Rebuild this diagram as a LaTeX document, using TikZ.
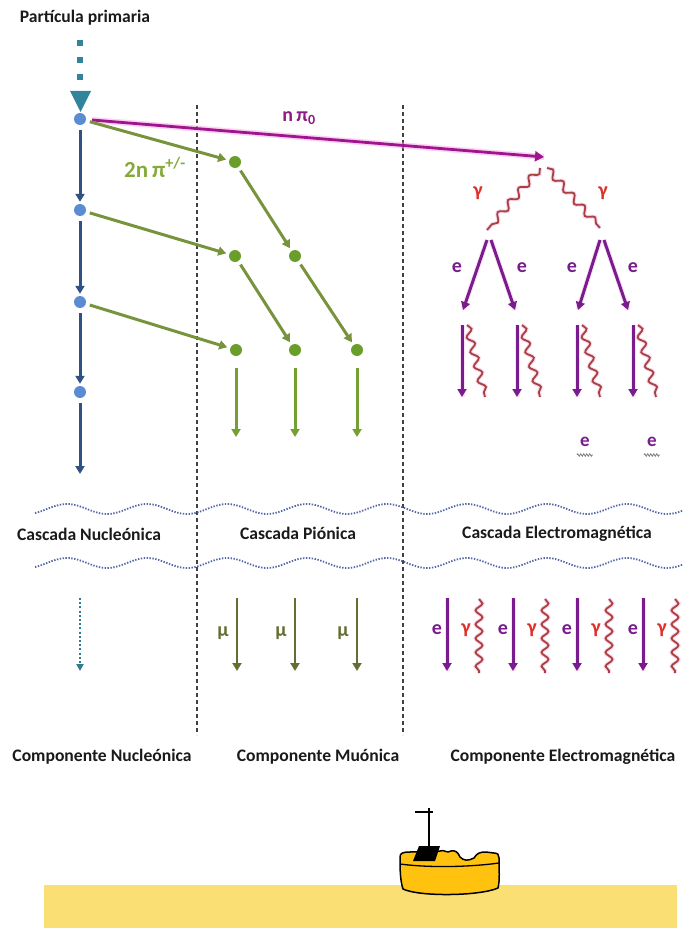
\documentclass[tikz,border=0pt]{standalone}
\usepackage{fontspec}
\setmainfont{Carlito}
\usetikzlibrary{arrows.meta,decorations.pathmorphing}
\definecolor{nucblue}{HTML}{2F5283}
\definecolor{dotblue}{HTML}{5B8BD0}
\definecolor{tealblue}{HTML}{31849B}
\definecolor{olivegreen}{HTML}{77933C}
\definecolor{pidot}{HTML}{6A9E2A}
\definecolor{pigreen}{HTML}{73A030}
\definecolor{pilabel}{HTML}{86AA3A}
\definecolor{muolive}{HTML}{646E32}
\definecolor{magline}{HTML}{A0148E}
\definecolor{magtext}{HTML}{8E1B82}
\definecolor{elpurple}{HTML}{7A1C8E}
\definecolor{gamred}{HTML}{A8423C}
\definecolor{gamtext}{HTML}{E0302A}
\definecolor{glowpink}{HTML}{F6B0E6}
\definecolor{wavedot}{HTML}{5466A8}
\definecolor{groundyel}{HTML}{F9DF74}
\definecolor{tankyel}{HTML}{FFC20E}
\definecolor{divgray}{HTML}{404040}
\definecolor{labelink}{HTML}{1A1A1A}
\begin{document}
\begin{tikzpicture}[x=1pt,y=-1pt,
  lbl/.style={font=\fontsize{17.6}{20}\selectfont\bfseries,text=labelink,inner sep=0pt},
  bdot/.style={circle,fill=dotblue,inner sep=0pt,minimum size=12pt},
  gdot/.style={circle,fill=pidot,inner sep=0pt,minimum size=12pt},
  tip/.style={-{Triangle[width=9pt,length=8pt]}},
  nucarrow/.style={draw=nucblue,line width=3pt,tip,shorten <=5pt,shorten >=2pt},
  piarrow/.style={draw=olivegreen,line width=3pt,tip,shorten <=4pt,shorten >=3pt},
  pidown/.style={draw=pigreen,line width=3pt,tip},
  muarrow/.style={draw=muolive,line width=2.6pt,tip},
  elarrow/.style={draw=elpurple,line width=3pt,tip},
  glowline/.style={draw=glowpink,line width=6pt,opacity=0.55},
  gamma/.style={draw=gamred,line width=1.8pt,decorate,
    decoration={snake,amplitude=3.5pt,segment length=16pt}},
  gammaglow/.style={draw=glowpink,line width=4pt,opacity=0.5,decorate,
    decoration={snake,amplitude=3.5pt,segment length=16pt}},
  divider/.style={draw=divgray,line width=1.2pt,dash pattern=on 4pt off 3pt},
  wavedots/.style={draw=wavedot,line width=1.8pt,dash pattern=on 1.4pt off 1.5pt},
  elab/.style={font=\fontsize{20}{22}\selectfont\bfseries,text=elpurple,inner sep=0pt},
  glab/.style={font=\fontsize{20}{22}\selectfont\bfseries,text=gamtext,inner sep=0pt},
  mulab/.style={font=\fontsize{20}{22}\selectfont\bfseries,text=muolive,inner sep=0pt}
]
\useasboundingbox (0,0) rectangle (683,928);

% ---------- column dividers ----------
\coordinate (d1t) at (197,105); \coordinate (d1b) at (197,735);
\coordinate (d2t) at (403,105); \coordinate (d2b) at (403,735);
\draw[divider] (d1t) -- (d1b);
\draw[divider] (d2t) -- (d2b);

% ---------- primary particle ----------
\node[lbl] (tprim) at (85,18) {Partícula primaria};
\coordinate (ptop) at (80,40);
\coordinate (pbot) at (80,84);
\draw[tealblue,line width=6.5pt,dash pattern=on 6pt off 11pt] (ptop) -- (pbot);
\fill[tealblue] (70,91) -- (91,91) -- (80.5,112) -- cycle;

% ---------- nucleonic cascade ----------
\node[bdot] (n1) at (80,119) {};
\node[bdot] (n2) at (80,210) {};
\node[bdot] (n3) at (80,302) {};
\node[bdot] (n4) at (80,392) {};
\coordinate (nend) at (80,474);
\draw[nucarrow] (n1) -- (n2);
\draw[nucarrow] (n2) -- (n3);
\draw[nucarrow] (n3) -- (n4);
\draw[nucarrow,shorten >=0pt] (n4) -- (nend);

% ---------- neutral pions ----------
\coordinate (pz) at (544,157);
\draw[glowline,shorten <=6pt] (n1) -- (pz);
\draw[draw=magline,line width=2.8pt,-{Triangle[width=10pt,length=9pt]},shorten <=6pt] (n1) -- (pz);
\node[font=\fontsize{20}{22}\selectfont\bfseries,text=magtext,inner sep=0pt] (tpz) at (299,118) {n\,π\textsubscript{0}};

% ---------- charged pions ----------
\node[gdot] (g1) at (235,162) {};
\node[gdot] (g2) at (235,256) {};
\node[gdot] (g3) at (295,256) {};
\node[gdot] (g4) at (236,350) {};
\node[gdot] (g5) at (295,350) {};
\node[gdot] (g6) at (357,350) {};
\draw[piarrow] (n1) -- (g1);
\draw[piarrow] (n2) -- (g2);
\draw[piarrow] (n3) -- (g4);
\draw[piarrow] (g1) -- (g3);
\draw[piarrow] (g2) -- (g5);
\draw[piarrow] (g3) -- (g6);
\node[font=\fontsize{23}{24}\selectfont\bfseries,text=pilabel,inner sep=0pt] (tpi) at (155,167) {2n\,π\textsuperscript{+/-}};
\coordinate (g4e) at (236,437);
\coordinate (g5e) at (295,437);
\coordinate (g6e) at (357,437);
\draw[pidown,shorten <=12pt] (g4) -- (g4e);
\draw[pidown,shorten <=12pt] (g5) -- (g5e);
\draw[pidown,shorten <=12pt] (g6) -- (g6e);

% ---------- electromagnetic cascade ----------
\coordinate (ga) at (540,168);
\coordinate (gb) at (547,168);
\coordinate (gl) at (487,230);
\coordinate (gr) at (600,228);
\draw[gammaglow] (ga) -- (gl);
\draw[gammaglow] (gb) -- (gr);
\draw[gamma] (ga) -- (gl);
\draw[gamma] (gb) -- (gr);
\node[glab] (tgl) at (478,193) {γ};
\node[glab] (tgr) at (603,193) {γ};

\coordinate (l1) at (487,240); \coordinate (l2) at (491,240);
\coordinate (r1) at (600,240); \coordinate (r2) at (604,240);
\coordinate (l1e) at (463,310); \coordinate (l2e) at (515,310);
\coordinate (r1e) at (578,310); \coordinate (r2e) at (628,310);
\foreach \a/\b in {l1/l1e,l2/l2e,r1/r1e,r2/r2e}{
  \draw[glowline,line width=5pt,opacity=0.35] (\a) -- (\b);
  \draw[elarrow] (\a) -- (\b);
}
\node[elab] (te1) at (457,268) {e};
\node[elab] (te2) at (522,268) {e};
\node[elab] (te3) at (572,268) {e};
\node[elab] (te4) at (633,268) {e};

\foreach \x [count=\i] in {462,517,577,633}{
  \coordinate (va\i) at (\x,325);
  \coordinate (vb\i) at (\x,397);
  \coordinate (wa\i) at (\x+5,325);
  \coordinate (wb\i) at (\x+23,397);
  \draw[glowline,line width=5pt,opacity=0.35] (va\i) -- (vb\i);
  \draw[elarrow] (va\i) -- (vb\i);
  \draw[gammaglow,decoration={snake,amplitude=3.5pt,segment length=15pt}] (wa\i) -- (wb\i);
  \draw[gamma,decoration={snake,amplitude=3.5pt,segment length=15pt}] (wa\i) -- (wb\i);
}
\foreach \x [count=\i] in {585,652}{
  \node[elab,font=\fontsize{19}{20}\selectfont\bfseries] (se\i) at (\x,442) {e};
  \coordinate (sa\i) at (\x-8,455);
  \coordinate (sb\i) at (\x+8,455);
  \draw[gray,line width=0.8pt,decorate,decoration={zigzag,amplitude=1.3pt,segment length=3pt}] (sa\i) -- (sb\i);
}

% ---------- atmosphere bands ----------
\draw[wavedots] plot[domain=35:683,samples=220] (\x,{509-5*sin(4.5*(\x-47))});
\draw[wavedots] plot[domain=35:683,samples=220] (\x,{563-5*sin(4.5*(\x-47))});
\node[lbl] (cnuc) at (89,534) {Cascada Nucleónica};
\node[lbl] (cpio) at (298,533) {Cascada Piónica};
\node[lbl] (cem) at (557,534) {Cascada Electromagnética};

% ---------- ground-level components ----------
\coordinate (nca) at (80,598);
\coordinate (ncb) at (80,671);
\draw[draw=tealblue!80!nucblue,line width=2pt,dash pattern=on 2pt off 2.2pt,
  -{Triangle[width=7pt,length=7pt]}] (nca) -- (ncb);

\foreach \x [count=\i] in {237,295,357}{
  \coordinate (ma\i) at (\x,598);
  \coordinate (mb\i) at (\x,671);
  \draw[muarrow] (ma\i) -- (mb\i);
  \node[mulab] (mu\i) at (\x-14,633) {μ};
}

\foreach \x [count=\i] in {447,513,577,643}{
  \coordinate (ea\i) at (\x,598);
  \coordinate (eb\i) at (\x,671);
  \draw[glowline,line width=5pt,opacity=0.35] (ea\i) -- (eb\i);
  \draw[elarrow] (ea\i) -- (eb\i);
  \node[elab] (ce\i) at (\x-10,630) {e};
  \node[glab] (cg\i) at (\x+19,630) {γ};
  \coordinate (ya\i) at (\x+32,599);
  \coordinate (yb\i) at (\x+32,673);
  \draw[gammaglow,decoration={snake,amplitude=3.5pt,segment length=14pt}] (ya\i) -- (yb\i);
  \draw[gamma,decoration={snake,amplitude=3.5pt,segment length=14pt}] (ya\i) -- (yb\i);
}

\node[lbl] (knuc) at (102,757) {Componente Nucleónica};
\node[lbl] (kmuo) at (318,757) {Componente Muónica};
\node[lbl] (kem) at (563,757) {Componente Electromagnética};

% ---------- ground and detector tank ----------
\fill[groundyel] (44,885) rectangle (677,928);
\draw[black,line width=1.5pt,fill=tankyel,line join=round]
  (400,857) .. controls (400,853) and (403,852) .. (410,852)
  -- (440,851) .. controls (444,849) and (447,854) .. (451,851)
  .. controls (455,850) and (458,852) .. (460,857)
  .. controls (464,861) and (468,861) .. (474,858)
  .. controls (477,853) and (480,852) .. (486,852)
  -- (494,853) .. controls (498,853) and (499,855) .. (499,858)
  .. controls (499,870) and (500,880) .. (498,888)
  .. controls (480,896) and (420,897) .. (403,889)
  .. controls (400,880) and (400,868) .. cycle;
\draw[black,line width=1.3pt] (400,864) .. controls (430,868) and (470,867) .. (499,863);
\fill[black] (413,861) -- (419,846) -- (440,846) -- (435,861) -- cycle;
\coordinate (antb) at (429,847);
\coordinate (antt) at (429,808);
\coordinate (barl) at (415,812);
\coordinate (barr) at (433,812);
\draw[black,line width=1.5pt] (antb) -- (antt);
\draw[black,line width=1.8pt] (barl) -- (barr);
\end{tikzpicture}
\end{document}
